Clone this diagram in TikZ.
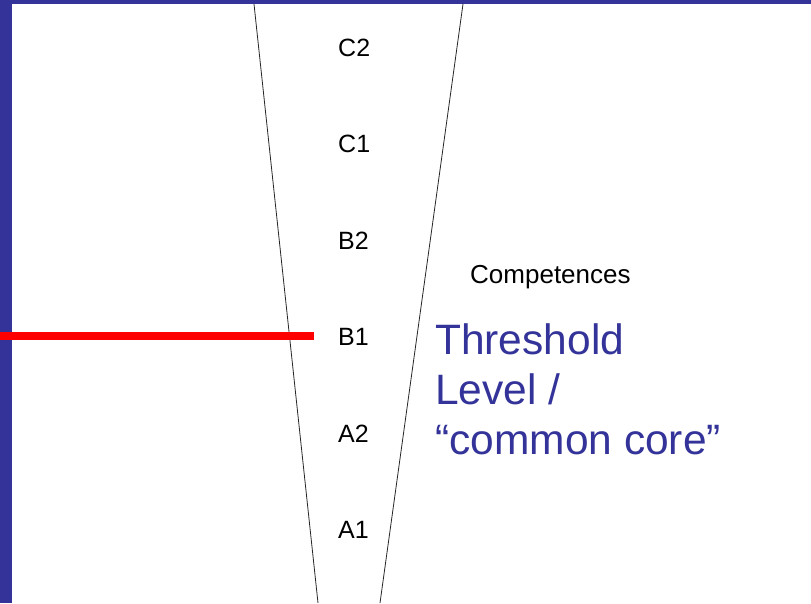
\documentclass[tikz,border=0pt]{standalone}
\usepackage{fontspec}
\setmainfont{Liberation Sans}
\definecolor{frameblue}{HTML}{333399}
\tikzset{
  lvl/.style={anchor=base west, inner sep=0pt, font=\fontsize{25}{30}\selectfont, text=black},
  head/.style={anchor=base west, inner sep=0pt, font=\fontsize{26}{30}\selectfont, text=black},
  note/.style={anchor=base west, inner sep=0pt, font=\fontsize{42.5}{50}\selectfont, text=frameblue},
  funnel/.style={draw=black!85, line width=0.8pt},
  marker/.style={draw=red, line width=8pt}
}
\begin{document}
\begin{tikzpicture}[x=1pt,y=-1pt]
\useasboundingbox (0,0) rectangle (811,603);
\fill[white] (0,0) rectangle (811,603);
\fill[frameblue] (0,0) rectangle (811,4);
\fill[frameblue] (0,0) rectangle (12,603);
% funnel lines
\coordinate (lt) at (254,4);
\coordinate (lb) at (318,603);
\coordinate (rt) at (463,4);
\coordinate (rb) at (380,603);
\draw[funnel] (lt) -- (lb);
\draw[funnel] (rt) -- (rb);
% red marker
\coordinate (ms) at (0,336);
\coordinate (me) at (314,336);
\draw[marker] (ms) -- (me);
% levels
\node[lvl] (c2) at (338,56) {C2};
\node[lvl] (c1) at (338,152.5) {C1};
\node[lvl] (b2) at (338,249) {B2};
\node[lvl] (b1) at (338,345.5) {B1};
\node[lvl] (a2) at (338,442) {A2};
\node[lvl] (a1) at (338,538) {A1};
% labels
\node[head] (comp) at (470,283) {Competences};
\node[note] (th1) at (435,354) {Threshold};
\node[note] (th2) at (435,404) {Level /};
\node[note] (th3) at (435,454) {“common core”};
\end{tikzpicture}
\end{document}
